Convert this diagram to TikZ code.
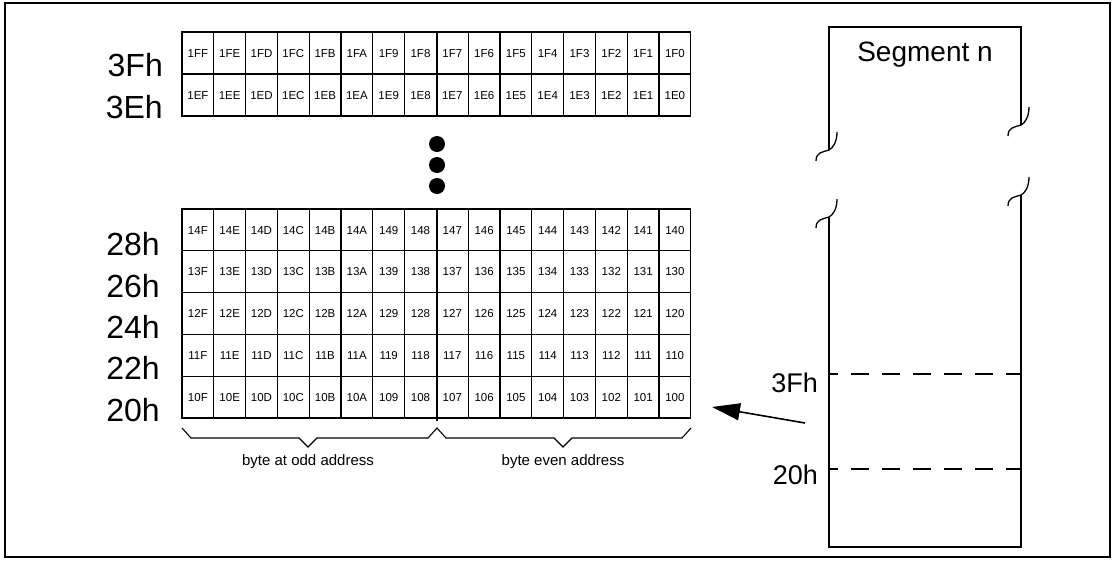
\documentclass[tikz,border=0pt]{standalone}
\usepackage{fontspec}
\setmainfont{Liberation Sans}
\usetikzlibrary{arrows.meta}
\tikzset{
  cell/.style={draw, line width=1.2pt, minimum width=31.8pt, minimum height=42pt, inner sep=0pt, text height=8.3pt, text depth=0pt, font=\fontsize{11.5}{13}\selectfont},
  rowlab/.style={anchor=base east, inner sep=0pt, font=\fontsize{32}{36}\selectfont},
  seglab/.style={anchor=base east, inner sep=0pt, font=\fontsize{27}{30}\selectfont},
  bracelab/.style={inner sep=0pt, font=\fontsize{15}{18}\selectfont},
  bracket/.style={line width=1.1pt, line join=miter},
  segbox/.style={line width=1.3pt},
  sepline/.style={line width=1.1pt, dash pattern=on 18pt off 13pt, dash phase=9pt},
  bigdot/.style={circle, fill=black, minimum size=16pt, inner sep=0pt},
  outerframe/.style={line width=2.8pt},
  brk/.pic={\draw[segbox] (8,-18) .. controls (8,-8) and (4,-2) .. (0,0) .. controls (-6,2) and (-13,2) .. (-13,11);}
}
\begin{document}
\begin{tikzpicture}[x=1pt,y=-1pt]
\useasboundingbox (0,0) rectangle (1116,560);
\draw[outerframe] (5,3) rectangle (1110,557);

% top grid
\foreach \h [count=\c] in {F,E,D,C,B,A,9,8,7,6,5,4,3,2,1,0} {
  \node[cell] (tA\c) at ({182+31.8*(\c-0.5)},53) {1F\h};
  \node[cell] (tB\c) at ({182+31.8*(\c-0.5)},95) {1E\h};
}
\draw[line width=2.2pt] (tA8.north east) -- (tB8.south east);
\node[rowlab] (l3Fa) at (163,76) {3Fh};
\node[rowlab] (l3Ea) at (163,118) {3Eh};

% dots
\node[bigdot] (d1) at (437,144) {};
\node[bigdot] (d2) at (437,165) {};
\node[bigdot] (d3) at (437,186) {};

% bottom grid
\foreach \p [count=\r] in {14,13,12,11,10} {
  \foreach \h [count=\c] in {F,E,D,C,B,A,9,8,7,6,5,4,3,2,1,0} {
    \node[cell, minimum height=41.8pt] (b\r-\c) at ({182+31.8*(\c-0.5)},{209+41.8*(\r-0.5)}) {\p\h};
  }
}
\draw[line width=2.2pt] (b1-8.north east) -- ([yshift=-2pt]b5-8.south east);
\node[rowlab] (l28) at (160,255) {28h};
\node[rowlab] (l26) at (160,297) {26h};
\node[rowlab] (l24) at (160,338) {24h};
\node[rowlab] (l22) at (160,379) {22h};
\node[rowlab] (l20) at (160,421) {20h};

% braces
\draw[bracket] (182,428) -- (191,438) -- (299,438) -- (308,447) -- (317,438) -- (428,438)
  -- (437,428) -- (446,438) -- (554,438) -- (563,447) -- (572,438) -- (682,438) -- (691,428);
\node[bracelab] (odd) at (308,462) {byte at odd address};
\node[bracelab] (even) at (563,462) {byte even address};

% segment box
\draw[segbox] (829,150) -- (829,27) -- (1021,27) -- (1021,125);
\draw[segbox] (829,217) -- (829,547) -- (1021,547) -- (1021,195);
\pic at (829,150) {brk};
\pic at (1021,125) {brk};
\pic at (829,217) {brk};
\pic at (1021,195) {brk};
\node[anchor=base, inner sep=0pt, font=\fontsize{28}{32}\selectfont] (seg) at (925,61) {Segment n};
\coordinate (s3a) at (829,374);
\coordinate (s3b) at (1021,374);
\coordinate (s2a) at (829,469);
\coordinate (s2b) at (1021,469);
\draw[sepline] (s3a) -- (s3b);
\draw[sepline] (s2a) -- (s2b);
\node[seglab] (r3F) at (818,392) {3Fh};
\node[seglab] (r20) at (818,484) {20h};

% arrow
\coordinate (as) at (805,423);
\coordinate (ae) at (712,407);
\draw[line width=1.6pt, -{Triangle[length=28pt,width=17pt]}] (as) -- (ae);
\end{tikzpicture}
\end{document}
